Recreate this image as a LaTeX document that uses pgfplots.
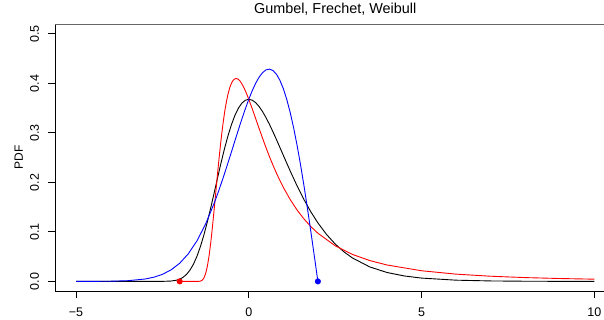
\documentclass[border=0pt]{standalone}
\usepackage{fontspec}
\setmainfont{Liberation Sans}
\usepackage{pgfplots}
\pgfplotsset{compat=1.18}
\begin{document}
\fontsize{12}{14}\selectfont
\begin{tikzpicture}
\begin{axis}[
  name=ax,
  scale only axis,
  width=559.7pt, height=267.3pt,
  xmin=-5.6, xmax=10.6, ymin=-0.02, ymax=0.52,
  axis x line*=bottom, axis y line*=left,
  axis line style={line width=0.8pt, black},
  xtick={-5,0,5,10}, xticklabels={−5,0,5,10},
  ytick={0,0.1,0.2,0.3,0.4,0.5}, yticklabels={0.0,0.1,0.2,0.3,0.4,0.5},
  minor tick num=0,
  tick align=outside,
  major tick length=7.2pt,
  tick style={line width=0.8pt, black},
  ticklabel style={font=\fontsize{12.5}{14}\selectfont},
  yticklabel style={rotate=90, anchor=south},
  xticklabel style={anchor=north},
  xticklabel shift=5.5pt,
  yticklabel shift=5pt,
  title={Gumbel, Frechet, Weibull},
  title style={at={(axis description cs:0.5,1)}, anchor=base, yshift=4.7pt, font=\fontsize{14.4}{17}\selectfont},
  ylabel={PDF},
  ylabel style={at={(axis description cs:-0.0654,0.5)}, anchor=center, font=\fontsize{12}{14}\selectfont},
  clip mode=individual,
]
\draw[black!60, line width=0.8pt] (rel axis cs:0,1) -- (rel axis cs:1,1) -- (rel axis cs:1,0);
% Gumbel
\addplot[black, line width=0.9pt] coordinates {
(-5,0) (-4,0) (-3,0) (-2.75,0.0000025) (-2.5,0.0000626) (-2.25,0.000719) (-2.1,0.002322) (-2,0.00457) (-1.9,0.00835) (-1.8,0.01427) (-1.7,0.02296) (-1.6,0.03498) (-1.5,0.05071) (-1.4,0.07029) (-1.3,0.09355) (-1.2,0.12002) (-1.1,0.14894) (-1,0.17937) (-0.9,0.21022) (-0.8,0.24039) (-0.7,0.26880) (-0.6,0.29461) (-0.5,0.31705) (-0.4,0.33561) (-0.3,0.34997) (-0.2,0.36009) (-0.1,0.36598) (0,0.36788) (0.1,0.36610) (0.2,0.36105) (0.3,0.35317) (0.4,0.34290) (0.5,0.33071) (0.6,0.31702) (0.7,0.30223) (0.8,0.28670) (0.9,0.27075) (1,0.25464) (1.2,0.22287) (1.4,0.19271) (1.6,0.16499) (1.8,0.14012) (2,0.11821) (2.25,0.09486) (2.5,0.07562) (2.75,0.05997) (3,0.04737) (3.5,0.02930) (4,0.01798) (4.5,0.01099) (5,0.00669) (6,0.00247) (7,0.000912) (8,0.000335) (9,0.000123) (10,0.0000454)
};
% Frechet
\addplot[red, line width=0.9pt] coordinates {
(-2,0) (-1.8,0) (-1.6,0) (-1.5,0.0000072) (-1.45,0.000087) (-1.4,0.00055) (-1.35,0.00226) (-1.3,0.00665) (-1.25,0.01548) (-1.2,0.03016) (-1.15,0.05135) (-1.1,0.07865) (-1.05,0.11093) (-1,0.14653) (-0.95,0.18360) (-0.9,0.22040) (-0.85,0.25552) (-0.8,0.28785) (-0.75,0.31664) (-0.7,0.34145) (-0.65,0.36216) (-0.6,0.37881) (-0.55,0.39151) (-0.5,0.40062) (-0.45,0.40648) (-0.4,0.40939) (-0.35,0.40980) (-0.3,0.40797) (-0.25,0.40433) (-0.2,0.39910) (-0.15,0.39264) (-0.1,0.38517) (-0.05,0.37682) (0,0.36788) (0.1,0.34876) (0.2,0.32878) (0.3,0.30869) (0.4,0.28898) (0.5,0.26997) (0.6,0.25187) (0.7,0.23480) (0.8,0.21880) (0.9,0.20385) (1,0.18998) (1.2,0.16519) (1.4,0.14401) (1.6,0.12594) (1.8,0.11052) (2,0.09735) (2.5,0.07206) (3,0.05454) (3.5,0.04213) (4,0.03314) (5,0.02150) (6,0.01468) (7,0.01045) (8,0.00769) (9,0.00582) (10,0.00450)
};
% Weibull
\addplot[blue, line width=0.9pt] coordinates {
(-5,0.0000167) (-4.5,0.000084) (-4,0.00037) (-3.5,0.001429) (-3,0.004826) (-2.75,0.008433) (-2.5,0.014242) (-2.25,0.023241) (-2,0.036631) (-1.75,0.055744) (-1.5,0.081848) (-1.25,0.11589) (-1,0.15810) (-0.875,0.18205) (-0.75,0.20760) (-0.625,0.23440) (-0.5,0.26201) (-0.375,0.28988) (-0.25,0.31732) (-0.125,0.34359) (0,0.36788) (0.1,0.38527) (0.2,0.40037) (0.3,0.41271) (0.4,0.42183) (0.5,0.42734) (0.6,0.42884) (0.7,0.42601) (0.8,0.41861) (0.9,0.40643) (1,0.38940) (1.1,0.36751) (1.2,0.34086) (1.3,0.30965) (1.4,0.27418) (1.5,0.23485) (1.6,0.19216) (1.7,0.14666) (1.8,0.09900) (1.9,0.049875) (2,0)
};
\addplot[only marks, mark=*, red, mark size=2.8pt] coordinates {(-2,0)};
\addplot[only marks, mark=*, blue, mark size=2.8pt] coordinates {(2,0)};
\end{axis}
\pgfresetboundingbox
\path[use as bounding box] ([shift={(-55.3pt,-28.7pt)}]ax.south west) rectangle ++(604pt,320pt);
\end{tikzpicture}
\end{document}
